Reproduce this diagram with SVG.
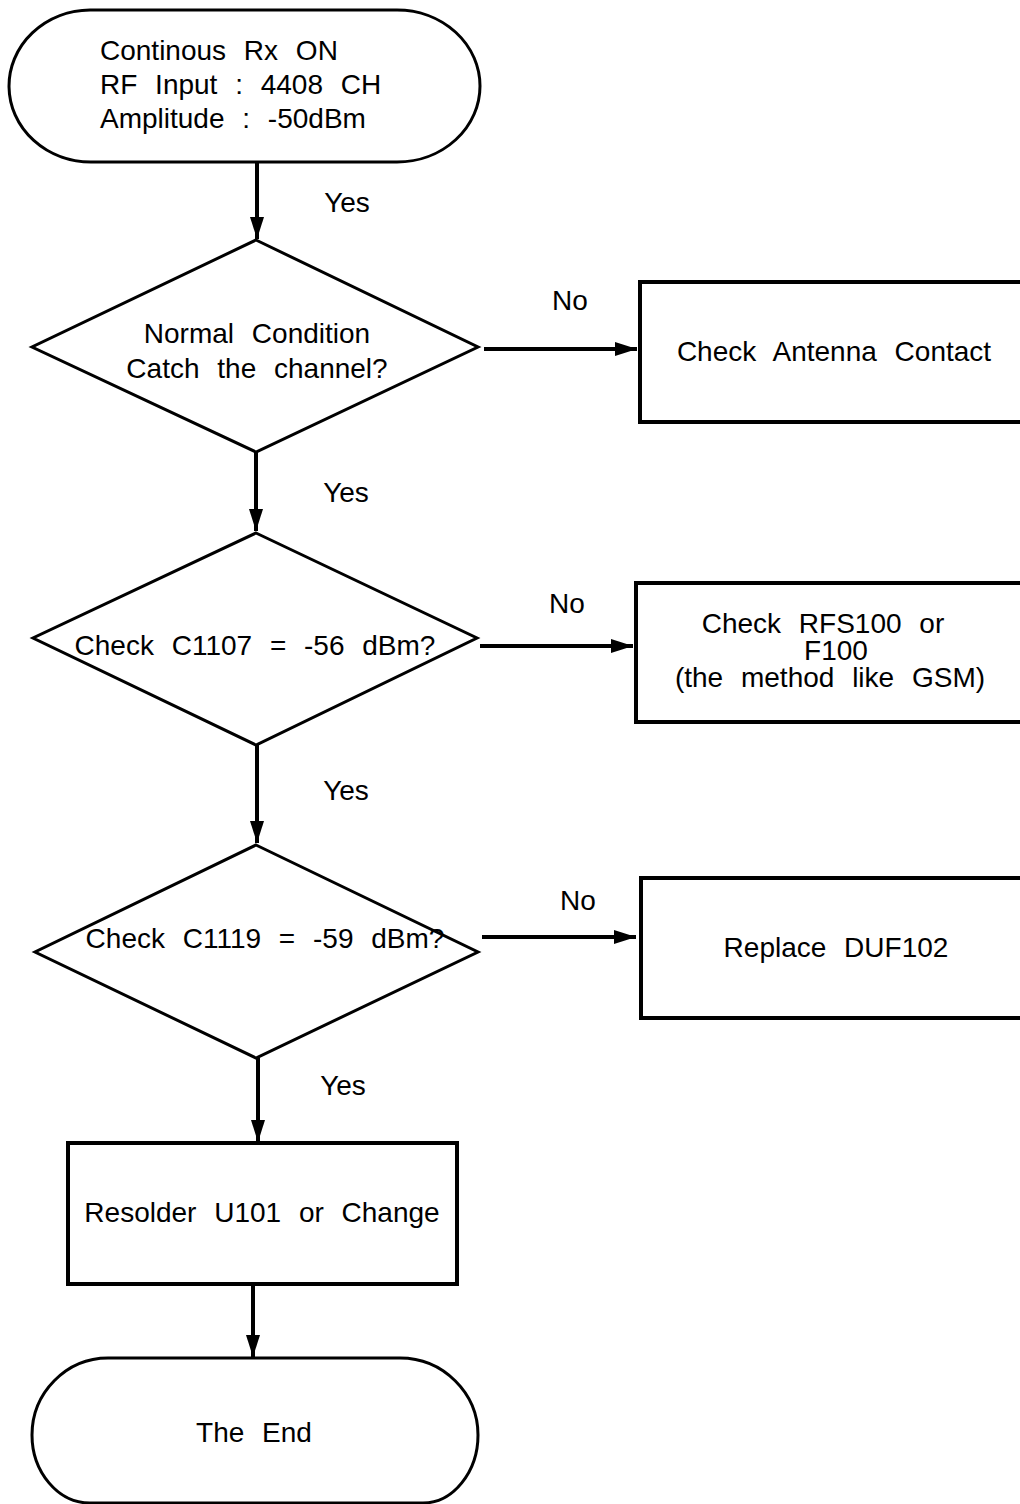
<svg xmlns="http://www.w3.org/2000/svg" width="1020" height="1504" viewBox="0 0 1020 1504">
<style>
text{font-family:"Liberation Sans",Arial,sans-serif;font-size:28px;fill:#000;word-spacing:10px}
.c{text-anchor:middle}
.term{fill:#fff;stroke:#000;stroke-width:3}
.dia{fill:#fff;stroke:#000;stroke-width:3}
.box{fill:#fff;stroke:#000;stroke-width:4}
.conn{fill:none;stroke:#000;stroke-width:4;marker-end:url(#ah)}
</style>
<defs>
<marker id="ah" markerUnits="userSpaceOnUse" markerWidth="24" markerHeight="14" refX="22" refY="7" orient="auto">
<path d="M0,0 L22,7 L0,14 Z" fill="#000"/>
</marker>
</defs>
<rect width="1020" height="1504" fill="#fff"/>
<g id="connectors">
<line class="conn" x1="257" y1="162" x2="257" y2="239"/>
<line class="conn" x1="256" y1="452" x2="256" y2="531"/>
<line class="conn" x1="257" y1="745" x2="257" y2="843"/>
<line class="conn" x1="258" y1="1058" x2="258" y2="1142"/>
<line class="conn" x1="253" y1="1284" x2="253" y2="1357"/>
<line class="conn" x1="484" y1="349" x2="637" y2="349"/>
<line class="conn" x1="480" y1="646" x2="633" y2="646"/>
<line class="conn" x1="482" y1="937" x2="636" y2="937"/>
<text x="347" y="212" class="c">Yes</text>
<text x="346" y="502" class="c">Yes</text>
<text x="346" y="800" class="c">Yes</text>
<text x="343" y="1095" class="c">Yes</text>
<text x="570" y="310" class="c">No</text>
<text x="567" y="613" class="c">No</text>
<text x="578" y="910" class="c">No</text>
</g>
<g id="start">
<path class="term" d="M90 10 H397 A83 76 0 0 1 397 162 H92 A82 76 0 0 1 90 10 Z"/>
<text x="100" y="60">Continous Rx ON</text>
<text x="100" y="94">RF Input : 4408 CH</text>
<text x="100" y="128">Amplitude : -50dBm</text>
</g>
<g id="d1">
<polygon class="dia" points="256,240 478,347 256,452 32,347"/>
<text x="257" y="343" class="c">Normal Condition</text>
<text x="257" y="378" class="c">Catch the channel?</text>
</g>
<g id="b1">
<rect class="box" x="640" y="282" width="384" height="140"/>
<text x="834" y="361" class="c">Check Antenna Contact</text>
</g>
<g id="d2">
<polygon class="dia" points="256,533 477,638 256,745 33,638"/>
<text x="255" y="655" class="c">Check C1107 = -56 dBm?</text>
</g>
<g id="b2">
<rect class="box" x="636" y="583" width="388" height="139"/>
<text x="823" y="633" class="c">Check RFS100 or</text>
<text x="836" y="660" class="c">F100</text>
<text x="830" y="687" class="c">(the method like GSM)</text>
</g>
<g id="d3">
<polygon class="dia" points="256,845 478,952 256,1058 35,952"/>
<text x="265" y="948" class="c">Check C1119 = -59 dBm?</text>
</g>
<g id="b3">
<rect class="box" x="641" y="878" width="383" height="140"/>
<text x="836" y="957" class="c">Replace DUF102</text>
</g>
<g id="b4">
<rect class="box" x="68" y="1143" width="389" height="141"/>
<text x="262" y="1222" class="c">Resolder U101 or Change</text>
</g>
<g id="end">
<path class="term" d="M108 1358 H400 C443 1358 478 1393 478 1435 C478 1472 453 1503 423 1503 H90 C58 1503 32 1472 32 1435 C32 1393 66 1358 108 1358 Z"/>
<text x="254" y="1442" class="c">The End</text>
</g>
</svg>
